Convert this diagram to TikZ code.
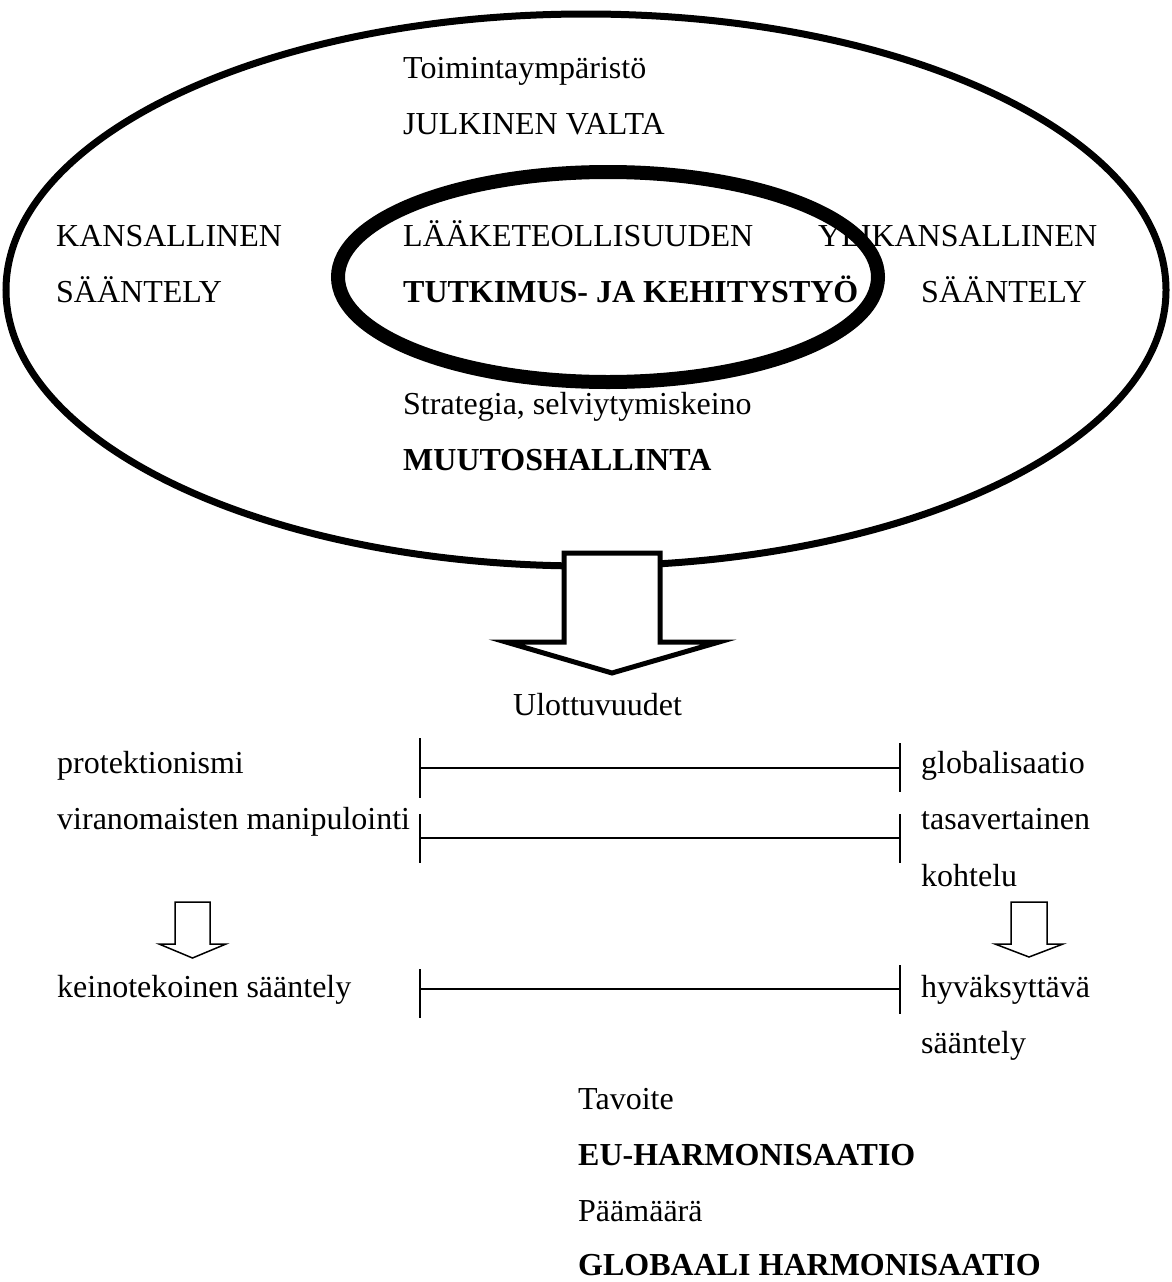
\documentclass[tikz,border=0pt]{standalone}
\usepackage{fontspec}
\setmainfont{Liberation Serif}
\begin{document}
\begin{tikzpicture}[x=1pt,y=-1pt,
  txt/.style={anchor=base west, inner sep=0pt, font=\fontsize{32}{38}\selectfont},
  btxt/.style={txt, font=\fontsize{32}{38}\selectfont\bfseries},
  scalebar/.style={line width=2pt},
  blockarrow/.style={draw, fill=white, line width=5pt, line join=miter},
  minorarrow/.style={draw, fill=white, line width=1.5pt, line join=miter}]
\useasboundingbox (0,0) rectangle (1172,1282);

% operating environment and the R&D core
\draw[line width=7pt] (586,290) ellipse [x radius=580pt, y radius=276pt];

\node[txt]  (env)   at (403,78)  {Toimintaympäristö};
\node[txt]  (gov)   at (403,134) {JULKINEN VALTA};
\node[txt]  (nat1)  at (56,246)  {KANSALLINEN};
\node[txt]  (nat2)  at (56,302)  {SÄÄNTELY};
\node[txt]  (ind)   at (403,246) {LÄÄKETEOLLISUUDEN};
\node[btxt] (rd)    at (403,302) {TUTKIMUS- JA KEHITYSTYÖ};
\node[txt]  (sup1)  at (818,246) {YLIKANSALLINEN};
\node[txt]  (sup2)  at (921,302) {SÄÄNTELY};
\node[txt]  (strat) at (403,414) {Strategia, selviytymiskeino};
\node[btxt] (chg)   at (403,470) {MUUTOSHALLINTA};

\draw[line width=14pt] (608,277) ellipse [x radius=270pt, y radius=105pt];

% main block arrow
\draw[blockarrow] (564,553) -- (564,642) -- (506,642) -- (612,673)
  -- (719,642) -- (660,642) -- (660,553) -- cycle;

\node[txt] (dim) at (513,715) {Ulottuvuudet};

% dimension scales
\node[txt] (prot)  at (57,773)  {protektionismi};
\node[txt] (manip) at (57,829)  {viranomaisten manipulointi};
\node[txt] (glob)  at (921,773) {globalisaatio};
\node[txt] (equ1)  at (921,829) {tasavertainen};
\node[txt] (equ2)  at (921,886) {kohtelu};
\node[txt] (art)   at (57,997)  {keinotekoinen sääntely};
\node[txt] (acc1)  at (921,997) {hyväksyttävä};
\node[txt] (acc2)  at (921,1053){sääntely};

\coordinate (s1l) at (420,768); \coordinate (s1r) at (900,768);
\coordinate (s2l) at (420,838); \coordinate (s2r) at (900,838);
\coordinate (s3l) at (420,989); \coordinate (s3r) at (900,989);
\draw[scalebar] (s1l) -- (s1r);
\draw[scalebar] (420,738) -- (420,798);
\draw[scalebar] (900,743) -- (900,792);
\draw[scalebar] (s2l) -- (s2r);
\draw[scalebar] (420,814) -- (420,863);
\draw[scalebar] (900,814) -- (900,863);
\draw[scalebar] (s3l) -- (s3r);
\draw[scalebar] (420,969) -- (420,1018);
\draw[scalebar] (900,965) -- (900,1014);

% small block arrows
\draw[minorarrow] (175,902) -- (175,944) -- (159,944) -- (192.5,958)
  -- (226,944) -- (210,944) -- (210,902) -- cycle;
\draw[minorarrow] (1011,902) -- (1011,944) -- (995,944) -- (1029,957)
  -- (1063,944) -- (1047,944) -- (1047,902) -- cycle;

% goals
\node[txt]  (goal)  at (578,1109) {Tavoite};
\node[btxt] (eu)    at (578,1165) {EU-HARMONISAATIO};
\node[txt]  (aim)   at (578,1221) {Päämäärä};
\node[btxt] (globh) at (578,1275) {GLOBAALI HARMONISAATIO};
\end{tikzpicture}
\end{document}
